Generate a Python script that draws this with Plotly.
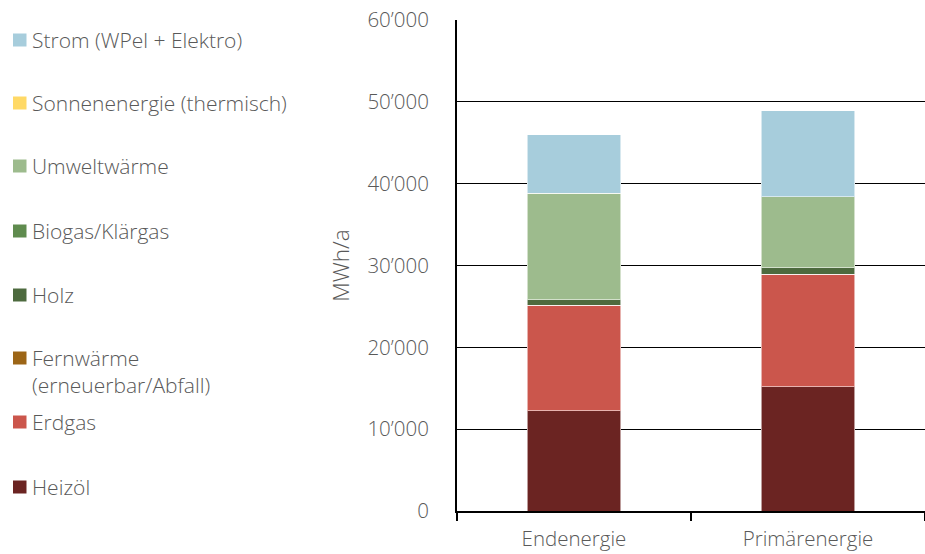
import plotly.graph_objects as go

# Categories and energy sources (MWh/a), stacked bottom to top
categories = ["Endenergie", "Primärenergie"]

heizoel = [12250, 15200]
erdgas = [12900, 13750]
fernwaerme = [0, 0]
holz = [650, 800]
biogas = [0, 0]
umweltwaerme = [13050, 8650]
sonnenenergie = [0, 0]
strom = [7100, 10500]

series_names = [
    "Heizöl",
    "Erdgas",
    "Fernwärme<br>(erneuerbar/Abfall)",
    "Holz",
    "Biogas/Klärgas",
    "Umweltwärme",
    "Sonnenenergie (thermisch)",
    "Strom (WPel + Elektro)",
]
series_values = [heizoel, erdgas, fernwaerme, holz, biogas, umweltwaerme, sonnenenergie, strom]
series_colors = ["#6B2422", "#CB564C", "#9C6516", "#4D6A3E", "#5F8B4E", "#9DBB8D", "#FFD966", "#A7CDDC"]

y_tickvals = [0, 10000, 20000, 30000, 40000, 50000, 60000]
y_ticktext = ["0", "10’000", "20’000", "30’000", "40’000", "50’000", "60’000"]

FONT = "Open Sans"
GREY = "#595959"
WEIGHT = 300

fig = go.Figure()
for name, vals, col in zip(series_names, series_values, series_colors):
    fig.add_trace(go.Bar(
        x=categories, y=vals, name=name,
        marker=dict(color=col, line=dict(color="rgba(255,255,255,0.55)", width=1)),
        showlegend=False,
    ))

# Legend drawn on the left: square swatch + label, top entry = top of stack
W, H = 925, 554
ML, MR, MT, MB = 457, 0, 20, 43
pw, ph = W - ML - MR, H - MT - MB

def px_x(px):
    return (px - ML) / pw

def px_y(py):
    return (H - MB - py) / ph

legend_rows = [40, 103, 166, 231, 295, 371.5, 422, 487]
swatch_rows = [40, 103, 166, 231, 295, 358, 422, 487]
shapes = []
annotations = []
for name, col, ty, sy in zip(series_names[::-1], series_colors[::-1], legend_rows, swatch_rows):
    shapes.append(dict(type="rect", xref="paper", yref="paper",
                       x0=px_x(13), x1=px_x(26.5), y0=px_y(sy + 6.5), y1=px_y(sy - 6.5),
                       fillcolor=col, line=dict(width=0)))
    annotations.append(dict(xref="paper", yref="paper", x=px_x(30), y=px_y(ty),
                            xanchor="left", yanchor="middle", align="left",
                            text=name, showarrow=False,
                            font=dict(family=FONT, size=21, color=GREY, weight=WEIGHT)))

fig.update_layout(
    barmode="stack",
    bargap=0.6,
    width=W, height=H,
    margin=dict(l=ML, r=MR, t=MT, b=MB, autoexpand=False),
    plot_bgcolor="white", paper_bgcolor="white",
    font=dict(family=FONT, color=GREY, size=20, weight=WEIGHT),
    shapes=shapes,
    annotations=annotations,
    showlegend=False,
)
fig.update_yaxes(
    range=[0, 60000],
    tickvals=y_tickvals, ticktext=y_ticktext,
    showgrid=True, gridcolor="black", gridwidth=1,
    zeroline=False,
    showline=True, linecolor="black", linewidth=2,
    ticks="", ticklabelstandoff=22,
    tickfont=dict(family=FONT, size=20.5, color=GREY, weight=WEIGHT),
    title=dict(text="MWh/a", font=dict(family=FONT, size=22.5, color=GREY, weight=WEIGHT), standoff=12),
    automargin=False,
)
fig.update_xaxes(
    showline=True, linecolor="black", linewidth=2,
    ticks="outside", tickson="boundaries", ticklen=8, tickwidth=2, tickcolor="black",
    ticklabelstandoff=8,
    tickfont=dict(family=FONT, size=20.5, color=GREY, weight=WEIGHT),
    automargin=False,
)

fig.write_html("out.html")
